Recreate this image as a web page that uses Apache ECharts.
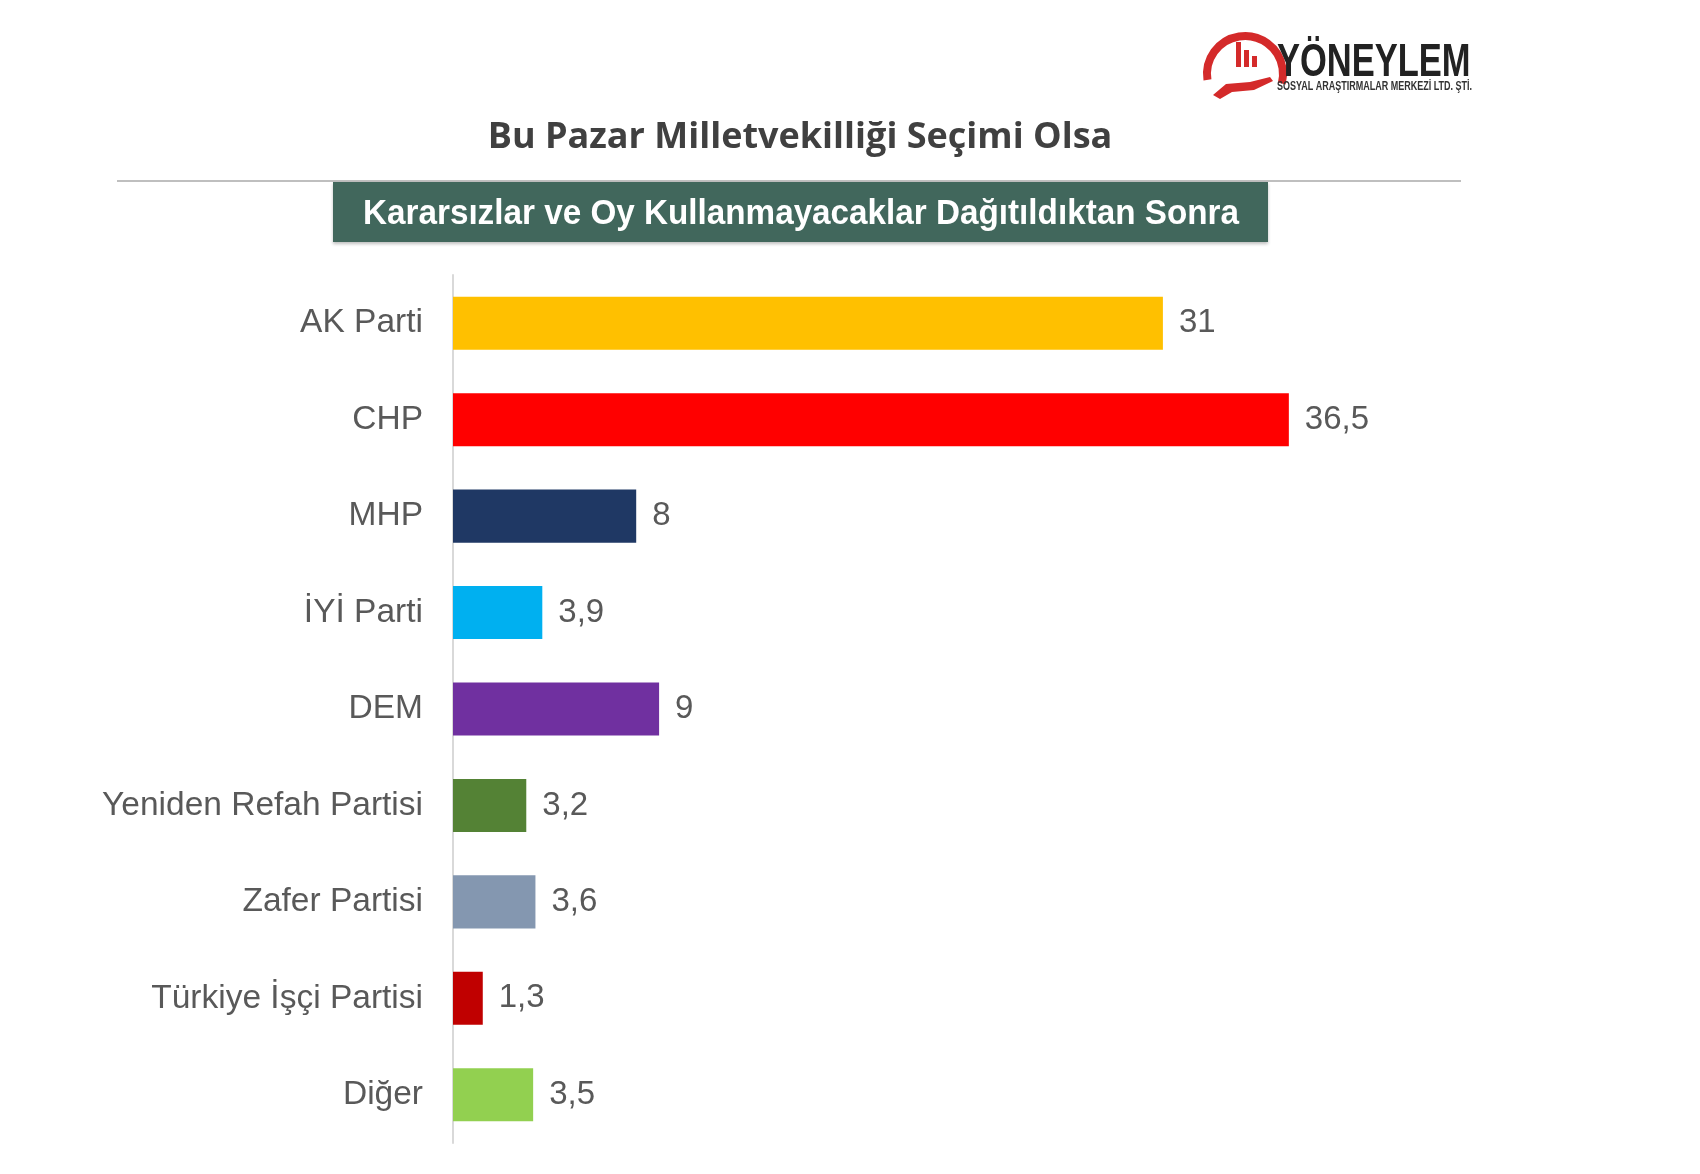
<!DOCTYPE html>
<html><head><meta charset="utf-8">
<script src="https://cdn.jsdelivr.net/npm/echarts@6/dist/echarts.min.js"></script>
<style>html,body{margin:0;padding:0;background:#fff}#c{width:1700px;height:1174px}</style>
</head><body><div id="c"></div>
<script>
const categories = ["AK Parti","CHP","MHP","İYİ Parti","DEM","Yeniden Refah Partisi","Zafer Partisi","Türkiye İşçi Partisi","Diğer"];
const values = [31, 36.5, 8, 3.9, 9, 3.2, 3.6, 1.3, 3.5];
const colors = ["#FFC000","#FF0000","#1F3864","#00B0F0","#7030A0","#548235","#8497B0","#C00000","#92D050"];
const titleText = "Bu Pazar Milletvekilliği Seçimi Olsa";
const subtitleText = "Kararsızlar ve Oy Kullanmayacaklar Dağıtıldıktan Sonra";

const chart = echarts.init(document.getElementById('c'), null, {renderer:'canvas'});
chart.setOption({
  backgroundColor:'#fff',
  animation:false,
  grid:{left:453, top:275, width:916, height:868, containLabel:false},
  xAxis:{type:'value', min:0, max:40, show:false},
  yAxis:{type:'category', data:categories, inverse:true,
    axisLine:{show:true, lineStyle:{color:'#d9d9d9', width:2}},
    axisTick:{show:false},
    axisLabel:{fontFamily:'Liberation Sans', fontSize:33.5, color:'#595959', margin:30}},
  series:[{type:'bar', barCategoryGap:'45%',
    data: values.map((v,i)=>({value:v, itemStyle:{color:colors[i]}})),
    label:{show:true, position:'right', distance:16, fontFamily:'Liberation Sans', fontSize:33, color:'#595959',
      formatter:p=>String(p.value).replace('.',',')}}],
  graphic:[
    {type:'text', x:800, y:138, style:{text:titleText, font:'bold 36px "Open Sans"', fill:'#404040', align:'center', verticalAlign:'middle'}},
    {type:'line', shape:{x1:117,y1:181,x2:1461,y2:181}, style:{stroke:'#bfbfbf', lineWidth:2}},
    {type:'rect', shape:{x:333,y:182,width:935,height:60}, style:{fill:'#41675c', shadowColor:'rgba(0,0,0,0.25)', shadowBlur:3, shadowOffsetY:2}},
    {type:'text', x:801, y:214, scaleX:0.95, style:{text:subtitleText, font:'bold 35px "Liberation Sans"', fill:'#ffffff', align:'center', verticalAlign:'middle'}},
    // logo
    {type:'arc', shape:{cx:1245, cy:74, r:38, startAngle:Math.PI*0.95, endAngle:Math.PI*2.08, clockwise:true}, style:{stroke:'#d42a2a', lineWidth:8, fill:null}},
    {type:'rect', shape:{x:1236,y:42,width:5,height:25}, style:{fill:'#d42a2a'}},
    {type:'rect', shape:{x:1244,y:50,width:5,height:17}, style:{fill:'#d42a2a'}},
    {type:'rect', shape:{x:1252,y:56,width:5,height:11}, style:{fill:'#d42a2a'}},
    {type:'polygon', shape:{points:[[1213,95],[1226,84],[1250,82],[1270,77],[1273,81],[1254,90],[1232,92],[1220,99]]}, style:{fill:'#d42a2a'}},
    {type:'text', x:1277, y:40, scaleX:0.75, style:{text:'YÖNEYLEM', font:'bold 46px "Liberation Sans"', fill:'#222'}},
    {type:'text', x:1277, y:81, scaleX:0.75, style:{text:'SOSYAL ARAŞTIRMALAR MERKEZİ LTD. ŞTİ.', font:'bold 12px "Liberation Sans"', fill:'#333'}}
  ]
});
</script></body></html>
